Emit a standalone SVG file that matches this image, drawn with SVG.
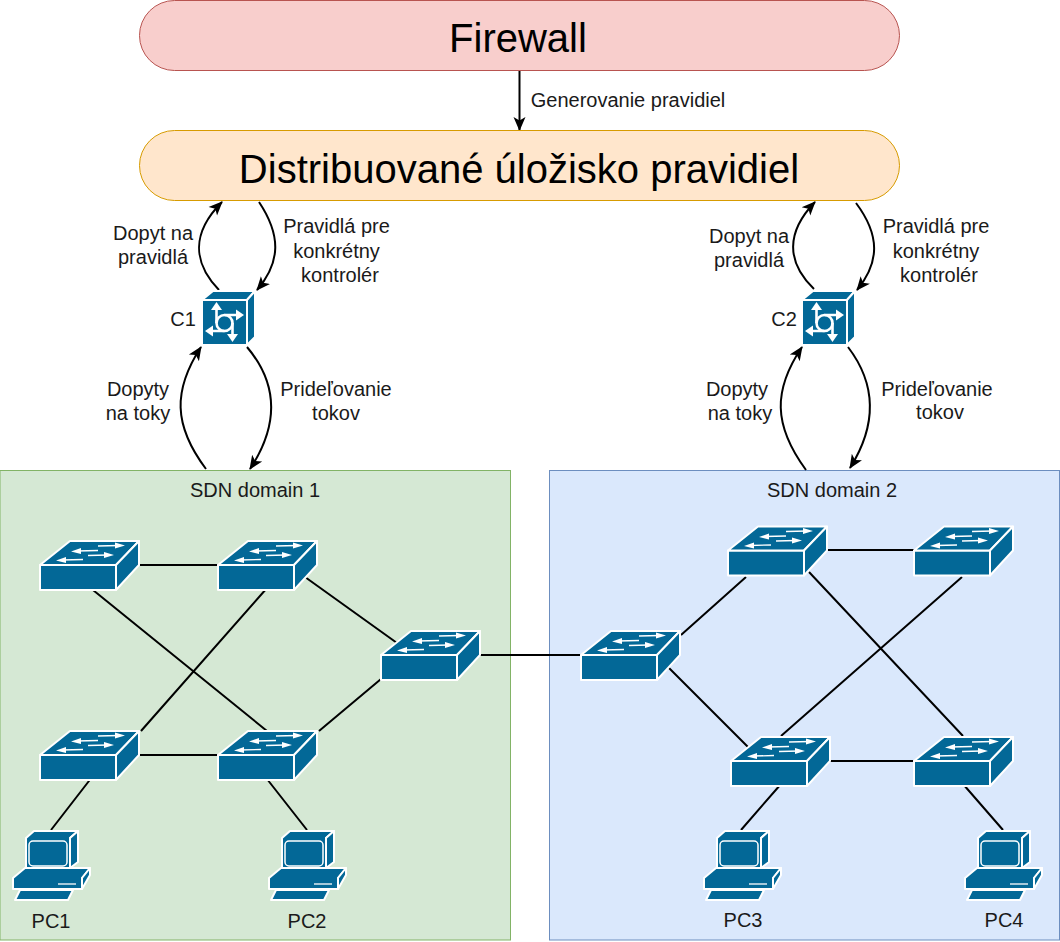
<svg xmlns="http://www.w3.org/2000/svg" width="1060" height="942" viewBox="0 0 1060 942">
<style>
text{font-family:"Liberation Sans",Arial,sans-serif;fill:#1a1a1a;text-anchor:middle;font-size:20px}
.big{font-size:40px;fill:#000}
.link{stroke:#000;stroke-width:2;fill:none}
.arc{stroke:#000;stroke-width:2;fill:none;marker-end:url(#ah)}
.b{fill:#036897;stroke:#fff;stroke-width:2;stroke-linejoin:round}
.w{stroke:#fff;stroke-width:1.300;fill:none}
.wf{fill:#fff;stroke:none}
</style>
<defs>
<marker id="ah" markerUnits="userSpaceOnUse" markerWidth="16" markerHeight="14" refX="13" refY="6" orient="auto" viewBox="0 0 16 12">
<path d="M0 0L14 6L0 12L3.500 6Z" fill="#000"/>
</marker>
<g id="sw">
<path class="b" d="M1 26H77V51H1Z"/>
<path class="b" d="M1 26L31 2H100L77 26Z"/>
<path class="b" d="M77 26L100 2V26L77 51Z"/>
<path class="w" d="M23 21L44 20.500M38 12L59 11.500M49 16.500L69 16M59 7L80 6.500"/>
<path class="wf" d="M17 21.500L27 18V24ZM32 12.500L42 9V15ZM75 16L65 13V19ZM86 6.500L76 3.500V9.500Z"/>
</g>
<g id="ctl">
<path class="b" d="M202 300H247V345H202Z"/>
<path class="b" d="M202 300L213 291H255L247 300Z"/>
<path class="b" d="M247 300L255 291V337L247 345Z"/>
<g stroke="#fff" stroke-width="2.600" fill="none">
<circle cx="224.500" cy="323" r="8"/>
<path d="M216.500 308V323M224.500 315H238M232.500 323V336M224.500 331H211"/>
</g>
<path class="wf" d="M216.500 302L222 310H211ZM244 315L236 309.500V320.500ZM205 331L213 325.500V336.500ZM232.500 342L227 334H238Z"/>
</g>
<g id="pc">
<path class="b" d="M1 48L13 38H78L70 48V59H1Z"/>
<path class="b" d="M70 48L78 38V45L70 59Z"/>
<path class="b" d="M14 8L22 1H66L58 8V38H14Z"/>
<path class="b" d="M58 8L66 1V32L58 38Z"/>
<rect x="17" y="11" width="38" height="25" rx="4" fill="none" stroke="#fff" stroke-width="1.500"/>
<path class="w" d="M46 54H64" stroke-width="1.800"/>
<path class="b" d="M8 60H61L56 70H3Z"/>
</g>
</defs>
<rect id="dom1" x="0" y="470.500" width="510.500" height="469.500" fill="#d5e8d4" stroke="#82b366"/>
<rect id="dom2" x="549.500" y="470.500" width="510" height="469.500" fill="#dae8fc" stroke="#6c8ebf"/>
<g id="connectors">
<path class="arc" d="M519.500 70V130"/>
<path class="arc" d="M219 290C192 262 192 232 222 202"/>
<path class="arc" d="M259 202C281 235 281 262 257 290"/>
<path class="arc" d="M206 469C173 425 173 390 201 347"/>
<path class="arc" d="M247 347C279 385 279 425 250 469"/>
<path class="arc" d="M814 289C786 262 786 232 815 202"/>
<path class="arc" d="M856 203C880 235 880 262 857 290"/>
<path class="arc" d="M806 470C773 425 773 390 802 347"/>
<path class="arc" d="M848 347C877 385 877 425 850 468"/>
<path class="link" d="M140 565H218M90.500 588L267 731M267 588L141 731M305 577L397 643M140 755H218M319 731L381 679M90.500 779L51 830M267 779L307 830M480 655H581"/>
<path class="link" d="M826 550H914M681 635L746 577M809 572L963 736M668 667L749 748M962 577L781 736M830 761H914M781 784L741 830M963 784L1003 830"/>
</g>
<g id="firewall"><rect x="139.500" y="0.500" width="760" height="70" rx="35" fill="#f8cecc" stroke="#b85450"/><text class="big" x="518" y="52">Firewall</text></g>
<g id="storage"><rect x="139.500" y="130.500" width="760" height="70" rx="35" fill="#ffe6cc" stroke="#d79b00"/><text class="big" x="519" y="183">Distribuované úložisko pravidiel</text></g>
<g id="labels">
<text x="628" y="107">Generovanie pravidiel</text>
<text x="153" y="240">Dopyt na</text><text x="153" y="264">pravidlá</text>
<text x="336.500" y="233">Pravidlá pre</text><text x="336.500" y="258">konkrétny</text><text x="340" y="282">kontrolér</text>
<text x="138" y="396">Dopyty</text><text x="138" y="420">na toky</text>
<text x="336" y="396">Prideľovanie</text><text x="336" y="420">tokov</text>
<text x="749" y="243">Dopyt na</text><text x="749" y="267">pravidlá</text>
<text x="936" y="233">Pravidlá pre</text><text x="936" y="258">konkrétny</text><text x="939" y="282">kontrolér</text>
<text x="737" y="396">Dopyty</text><text x="740" y="420">na toky</text>
<text x="937" y="396">Prideľovanie</text><text x="940" y="419">tokov</text>
<text x="255" y="497">SDN domain 1</text><text x="832" y="497">SDN domain 2</text>
</g>
<g id="c1"><use href="#ctl"/><text x="183" y="326">C1</text></g>
<g id="c2"><use href="#ctl" x="600"/><text x="784" y="326">C2</text></g>
<g id="s1"><use href="#sw" x="39" y="539"/></g>
<g id="s2"><use href="#sw" x="217" y="539"/></g>
<g id="s3"><use href="#sw" x="380" y="629"/></g>
<g id="s4"><use href="#sw" x="39" y="729"/></g>
<g id="s5"><use href="#sw" x="217" y="729"/></g>
<g id="s6"><use href="#sw" x="580" y="629"/></g>
<g id="s7"><use href="#sw" x="727" y="524.500"/></g>
<g id="s8"><use href="#sw" x="913" y="524.500"/></g>
<g id="s9"><use href="#sw" x="730" y="735"/></g>
<g id="s10"><use href="#sw" x="913" y="735"/></g>
<g id="pc1"><use href="#pc" x="12" y="830"/><text x="51" y="928">PC1</text></g>
<g id="pc2"><use href="#pc" x="268" y="830"/><text x="307" y="928">PC2</text></g>
<g id="pc3"><use href="#pc" x="703" y="830"/><text x="743" y="927">PC3</text></g>
<g id="pc4"><use href="#pc" x="964" y="830"/><text x="1004" y="927">PC4</text></g>
</svg>
